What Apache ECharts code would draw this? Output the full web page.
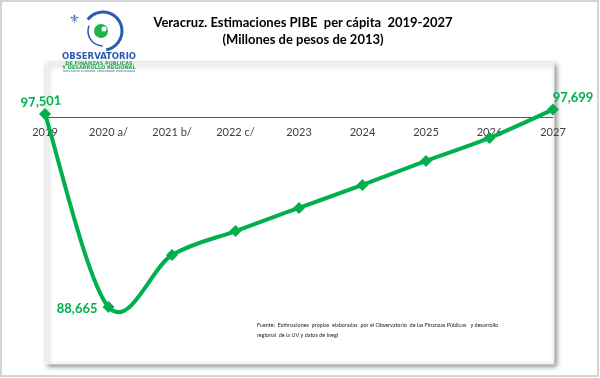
<!DOCTYPE html>
<html><head><meta charset="utf-8">
<script src="https://cdn.jsdelivr.net/npm/echarts@6/dist/echarts.min.js"></script>
<style>html,body{margin:0;padding:0;background:#fff}#c{width:600px;height:378px}</style>
</head><body><div id="c"></div>
<script>
var categories = ['2019','2020 a/','2021 b/','2022 c/','2023','2024','2025','2026','2027'];
var values = [97501, 88665, 91040, 92140, 93200, 94250, 95350, 96400, 97699];

var chart = echarts.init(document.getElementById('c'), null, {renderer:'canvas'});
var green = '#00b04f';
var fontF = 'Lato, "Open Sans", sans-serif';

var seriesData = values.map(function(v, i){
  var item = {value: v};
  if (i === 0) item.label = {show:true, position:'top', offset:[-4,5], rotate:4};
  else if (i === 1) item.label = {show:true, position:'left', offset:[0,2]};
  else if (i === values.length-1) item.label = {show:true, position:'top', offset:[20,6]};
  return item;
});

// Excel-like smoothed line (Catmull-Rom) drawn through the axis scales
function renderSmooth(params, api){
  if (params.dataIndex !== 0) return null;
  var pts = values.map(function(v, i){ return api.coord([i, v]); });
  var n = pts.length, d = 'M' + pts[0][0] + ' ' + pts[0][1];
  for (var i = 0; i < n - 1; i++){
    var p0 = pts[Math.max(i-1,0)], p1 = pts[i], p2 = pts[i+1], p3 = pts[Math.min(i+2,n-1)];
    var c1x = p1[0] + (p2[0]-p0[0])/6, c1y = p1[1] + (p2[1]-p0[1])/6;
    var c2x = p2[0] - (p3[0]-p1[0])/6, c2y = p2[1] - (p3[1]-p1[1])/6;
    d += ' C' + c1x + ' ' + c1y + ' ' + c2x + ' ' + c2y + ' ' + p2[0] + ' ' + p2[1];
  }
  return {type:'path', shape:{pathData:d}, style:{fill:null, stroke:green, lineWidth:4, lineJoin:'round', lineCap:'round'}};
}

chart.setOption({
  animation:false,
  title:{
    text:'Veracruz. Estimaciones PIBE  per cápita  2019-2027\n(Millones de pesos de 2013)',
    left:298, top:9, textAlign:'center',
    textStyle:{fontFamily:fontF, fontSize:13, fontWeight:'bold', color:'#000', lineHeight:17}
  },
  graphic:[
    {type:'rect', z:-10, shape:{x:1,y:1,width:597,height:375}, style:{fill:'#fff', stroke:'#d4d4d4', lineWidth:2}},
    {type:'rect', z:-9, shape:{x:46,y:63,width:508,height:301},
     style:{fill:'#fff', stroke:'#f0f0f0', lineWidth:1, shadowBlur:5, shadowOffsetX:2, shadowOffsetY:2, shadowColor:'rgba(0,0,0,0.45)'}},
    // logo
    {type:'arc', shape:{cx:103,cy:31,r:19,startAngle:-2.5,endAngle:1.4}, style:{stroke:'#2a5bb0', lineWidth:3, fill:null}},
    {type:'arc', shape:{cx:103,cy:31,r:15,startAngle:1.6,endAngle:3.5}, style:{stroke:'#2a5bb0', lineWidth:1.5, fill:null}},
    {type:'circle', shape:{cx:101,cy:31,r:7}, style:{fill:'#22b24c'}},
    {type:'circle', shape:{cx:104,cy:29,r:2.5}, style:{fill:'#fff'}},
    {type:'text', style:{x:74,y:20,text:'⚜',fontSize:12,fill:'#2a5bb0',textAlign:'center',textVerticalAlign:'middle'}},
    {type:'text', style:{x:99,y:57,text:'OBSERVATORIO',fontFamily:'"DejaVu Sans", sans-serif',fontSize:8.5,fontWeight:'bold',fill:'#2a5bb0',textAlign:'center',textVerticalAlign:'middle'}},
    {type:'text', style:{x:99,y:63.5,text:'DE FINANZAS PÚBLICAS',fontFamily:'"DejaVu Sans", sans-serif',fontSize:5,fontWeight:'bold',fill:'#22a84a',textAlign:'center',textVerticalAlign:'middle'}},
    {type:'text', style:{x:99,y:68,text:'Y DESARROLLO REGIONAL',fontFamily:'"DejaVu Sans", sans-serif',fontSize:5,fontWeight:'bold',fill:'#22a84a',textAlign:'center',textVerticalAlign:'middle'}},
    {type:'text', style:{x:99,y:71.5,text:'FACULTAD DE ECONOMÍA, UNIVERSIDAD VERACRUZANA',fontFamily:'"DejaVu Sans", sans-serif',fontSize:2.6,fill:'#2a5bb0',textAlign:'center',textVerticalAlign:'middle'}},
    // source
    {type:'text', style:{x:257,y:320,text:'Fuente:  Estimaciones  propias  elaboradas  por el Observatorio  de las Finanzas Públicas   y desarrollo\nregional  de la UV y datos de Inegi',fontFamily:fontF,fontSize:5.45,lineHeight:10,fill:'#222'}}
  ],
  grid:{left:45, right:47, top:103, bottom:56.5, containLabel:false},
  xAxis:{
    type:'category', data:categories, boundaryGap:false, position:'top', offset:-14,
    axisLine:{show:true, lineStyle:{color:'#595959', width:1}},
    axisTick:{show:false},
    axisLabel:{inside:true, margin:10, color:'#404040', fontFamily:fontF, fontSize:11},
    splitLine:{show:false}
  },
  yAxis:{type:'value', min:88000, max:98000, show:false, splitLine:{show:false}},
  series:[
    {type:'custom', renderItem:renderSmooth, data:values.map(function(v,i){return [i,v];}), clip:false, z:4, silent:true},
    {
    type:'line', data:seriesData, clip:false,
    symbol:'diamond', symbolSize:12,
    lineStyle:{width:0, opacity:0},
    itemStyle:{color:green},
    label:{show:false, color:green, fontFamily:fontF, fontSize:13, fontWeight:'bold',
      formatter:function(p){return p.value.toLocaleString('en-US');}},
    z:5
  }]
});
</script></body></html>
